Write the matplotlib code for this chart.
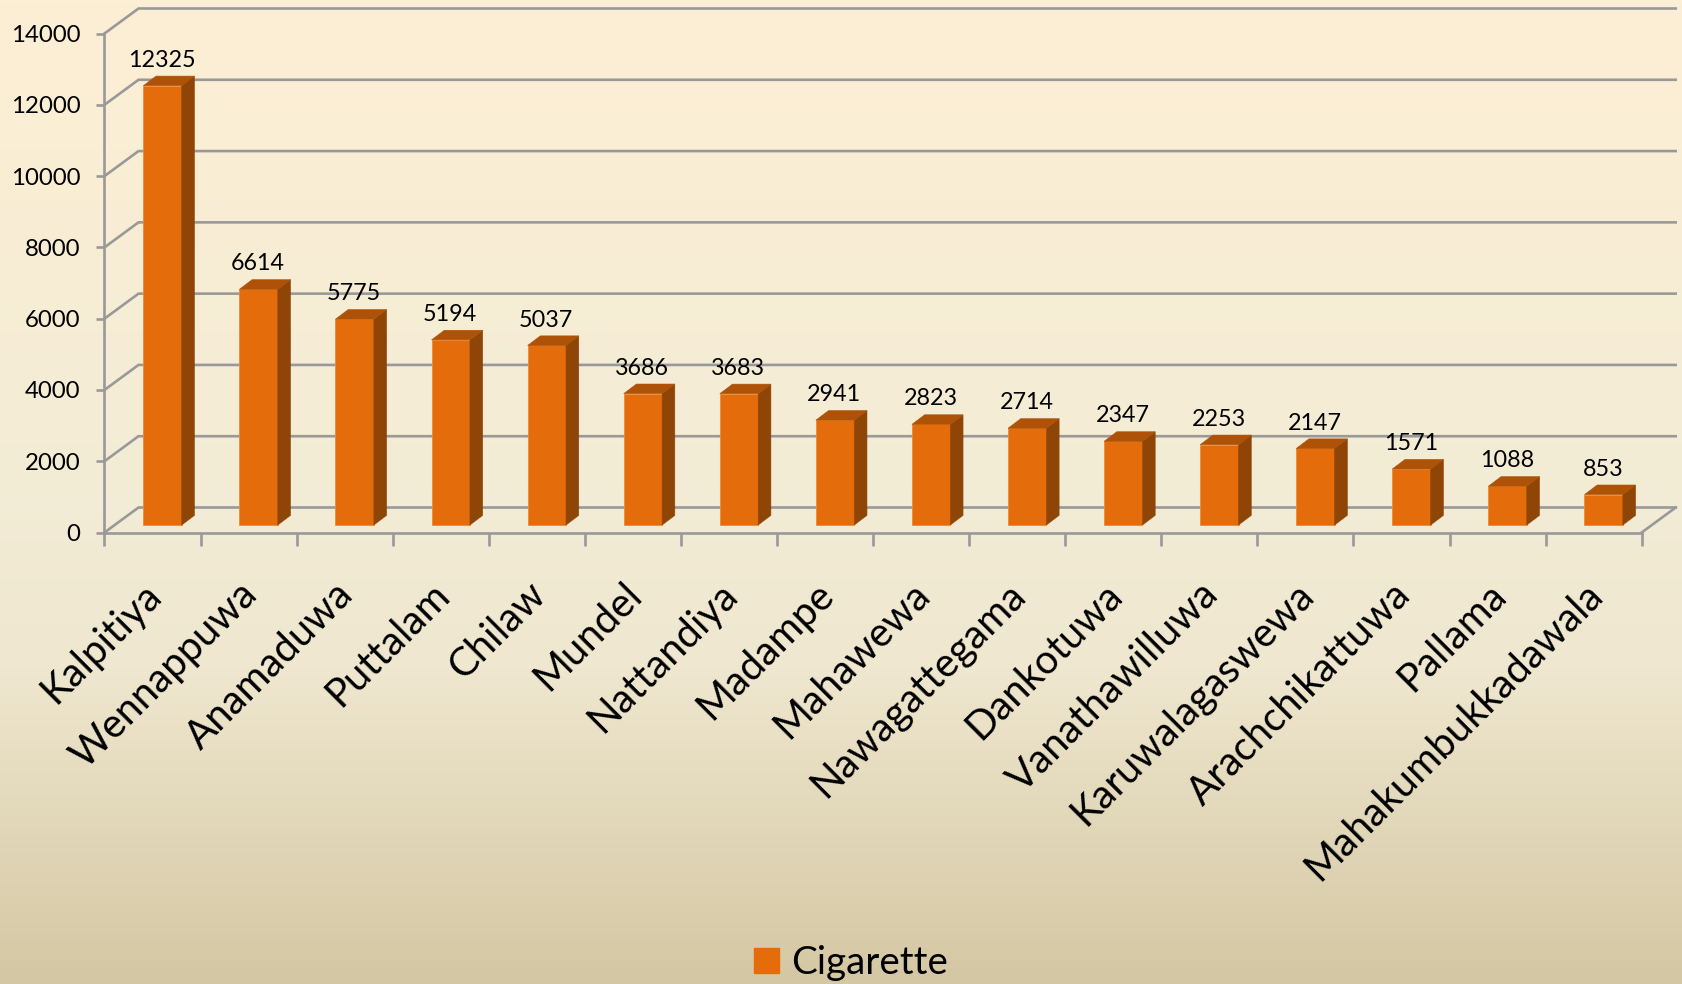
import numpy as np
import matplotlib
matplotlib.use("Agg")
import matplotlib.pyplot as plt
from matplotlib.colors import LinearSegmentedColormap
from matplotlib.patches import Patch, Polygon
from matplotlib.transforms import ScaledTranslation

plt.rcParams['font.family'] = ['Lato', 'DejaVu Sans']

categories = ["Kalpitiya", "Wennappuwa", "Anamaduwa", "Puttalam", "Chilaw", "Mundel",
              "Nattandiya", "Madampe", "Mahawewa", "Nawagattegama", "Dankotuwa",
              "Vanathawilluwa", "Karuwalagaswewa", "Arachchikattuwa", "Pallama",
              "Mahakumbukkadawala"]
cigarette = [12325, 6614, 5775, 5194, 5037, 3686, 3683, 2941, 2823, 2714, 2347,
             2253, 2147, 1571, 1088, 853]
y_ticks = [0, 2000, 4000, 6000, 8000, 10000, 12000, 14000]
series_name = "Cigarette"

W, H = 1683, 984
fig = plt.figure(figsize=(W / 100, H / 100), dpi=100)

# background gradient
bg = fig.add_axes([0, 0, 1, 1], zorder=-1)
bg.axis('off')
cmap = LinearSegmentedColormap.from_list(
    'bg', [(0, '#FDEFD4'), (0.5, '#F3ECD6'), (0.68, '#EFE7CF'), (1, '#D4C7A3')])
bg.imshow(np.linspace(0, 1, 256)[:, None], aspect='auto', cmap=cmap, vmin=0, vmax=1)

# front plane of the chart
L, R, TOP, BOT = 104.5, 1641.7, 33.5, 532.5
ax = fig.add_axes([L / W, 1 - BOT / H, (R - L) / W, (BOT - TOP) / H])
ax.patch.set_alpha(0)
ax.set_xlim(-0.5, 15.5)
ax.set_ylim(0, 14000)

px_x = 16 / (R - L)           # category units per pixel
px_y = 14000 / (BOT - TOP)    # value units per pixel

GRID = '#999999'
LW = 1.9
depth_x, depth_y = 34 * px_x, 25 * px_y

# back wall lines and side-wall diagonals
for t in y_ticks:
    ax.plot([-0.5, -0.5 + depth_x, 15.5 + depth_x],
            [t, t + depth_y, t + depth_y], color=GRID, lw=LW, clip_on=False, zorder=1,
            solid_joinstyle='miter')
ax.plot([15.5, 15.5 + depth_x], [0, depth_y], color=GRID, lw=LW, clip_on=False, zorder=1)

# bars
x = np.arange(len(categories))
bar_w = 38.4 * px_x
off_x, off_y = 10 * px_x, 7.5 * px_y
side_x, side_y = 12.7 * px_x, 9.6 * px_y
FRONT, SIDE, CAP = '#E46C0A', '#8F4505', '#AE5207'
ax.bar(x + off_x, cigarette, width=bar_w, bottom=off_y, color=FRONT,
       edgecolor='#EE8A3A', linewidth=0.6, zorder=3, clip_on=False)
for xi, v in zip(x, cigarette):
    x0, x1 = xi + off_x - bar_w / 2, xi + off_x + bar_w / 2
    y0, y1 = off_y, off_y + v
    ax.add_patch(Polygon([(x1, y0), (x1 + side_x, y0 + side_y), (x1 + side_x, y1 + side_y), (x1, y1)],
                         closed=True, fc=SIDE, ec=SIDE, lw=0.4, zorder=3, clip_on=False))
    ax.add_patch(Polygon([(x0, y1), (x0 + side_x, y1 + side_y), (x1 + side_x, y1 + side_y), (x1, y1)],
                         closed=True, fc=CAP, ec=CAP, lw=0.4, zorder=3, clip_on=False))
    ax.annotate(str(v), (xi + off_x, y1), xytext=(-0.5, 18.3), textcoords='offset points',
                ha='center', va='center', fontsize=16.8, color='black', zorder=4,
                annotation_clip=False)

# axes
for s in ('top', 'right'):
    ax.spines[s].set_visible(False)
for s in ('left', 'bottom'):
    ax.spines[s].set_color(GRID)
    ax.spines[s].set_linewidth(LW)
ax.set_yticks(y_ticks)
ax.tick_params(axis='y', length=6, width=LW, color=GRID, labelsize=17.3, pad=11.5, labelcolor='black')
ax.set_xticks(np.arange(-0.5, 16, 1))
ax.set_xticklabels([])
ax.tick_params(axis='x', which='major', length=9.5, width=LW, color=GRID)
ax.set_xticks(x, minor=True)
ax.set_xticklabels(categories, minor=True, rotation=45, ha='right', va='top',
                   rotation_mode='anchor', fontsize=28.8)
ax.tick_params(axis='x', which='minor', length=0, pad=31)
shift = ScaledTranslation(-7.5 / 72, 0, fig.dpi_scale_trans)
for lab in ax.get_xticklabels(minor=True):
    lab.set_transform(lab.get_transform() + shift)

# legend
fig.legend(handles=[Patch(fc=FRONT, ec=FRONT, label=series_name)], loc='center',
           bbox_to_anchor=(851 / W, 1 - 963 / H), frameon=False, fontsize=27.7,
           handlelength=0.64, handleheight=0.64, handletextpad=0.3)

fig.savefig('out.png', dpi=100)
